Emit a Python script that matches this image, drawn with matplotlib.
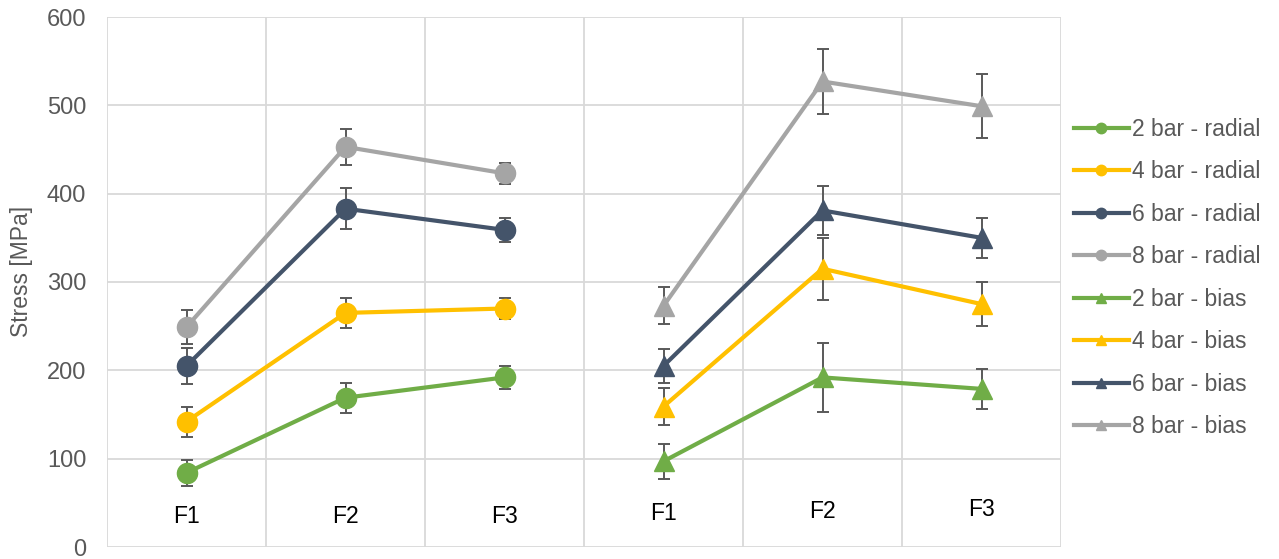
import numpy as np
import matplotlib.pyplot as plt
from matplotlib.lines import Line2D

plt.rcParams['font.family'] = ['Liberation Sans', 'DejaVu Sans']

# stress per feature, radial vs bias, for each pressure
features = ['F1', 'F2', 'F3']
pressures = ['2 bar', '4 bar', '6 bar', '8 bar']
colors = ['#70AD47', '#FFC000', '#44546A', '#A5A5A5']

radial_mean = [
    [84, 169, 192],
    [142, 265, 270],
    [205, 383, 359],
    [249, 453, 423],
]
radial_err = [
    [15, 17, 13],
    [17, 17, 12],
    [20, 23, 14],
    [19, 20, 12],
]
bias_mean = [
    [97, 192, 179],
    [159, 315, 275],
    [205, 381, 350],
    [273, 527, 499],
]
bias_err = [
    [20, 39, 23],
    [21, 35, 25],
    [19, 28, 23],
    [21, 37, 36],
]

# heights of the F labels inside the plot
label_y = [34, 34, 34, 38, 40, 43]

fig = plt.figure(figsize=(12.79, 5.59), dpi=100)
ax = fig.add_axes([107 / 1279, 1 - 547 / 559, (1061 - 107) / 1279, (547 - 17) / 559])

x_rad = np.arange(3)
x_bias = np.arange(3) + 3

for i in range(4):
    ax.errorbar(x_rad, radial_mean[i], yerr=radial_err[i], fmt='none', ecolor='#595959',
                elinewidth=1.4, capsize=4, capthick=1.4, zorder=2)
    ax.plot(x_rad, radial_mean[i], color=colors[i], lw=3, marker='o', ms=14.5, zorder=3)
for i in range(4):
    ax.errorbar(x_bias, bias_mean[i], yerr=bias_err[i], fmt='none', ecolor='#595959',
                elinewidth=1.4, capsize=4, capthick=1.4, zorder=2)
    ax.plot(x_bias, bias_mean[i], color=colors[i], lw=3, marker='^', ms=15, zorder=3)

for j, lab in enumerate(features * 2):
    ax.text(j, label_y[j], lab, ha='center', va='center', fontsize=16.5, color='black')

ax.set_xlim(-0.5, 5.5)
ax.set_ylim(0, 600)
ax.set_yticks(range(0, 601, 100))
ax.set_xticks(np.arange(-0.5, 5.6, 1))
ax.set_xticklabels([])
ax.tick_params(axis='both', length=0, colors='#595959', labelsize=17, pad=15)
ax.grid(True, color='#D9D9D9', lw=1.3)
ax.set_axisbelow(True)
for s in ax.spines.values():
    s.set_visible(False)
ax.set_ylabel('Stress [MPa]', color='#595959', fontsize=16.5, labelpad=0)
ax.yaxis.set_label_coords(-0.078, 0.519)

handles = []
labels = []
for mk, kind in [('o', 'radial'), ('^', 'bias')]:
    for i in range(4):
        handles.append(Line2D([], [], color=colors[i], lw=3, marker=mk, ms=7.5))
        labels.append(f'{pressures[i]} - {kind}')
leg = fig.legend(handles, labels, loc='center left', bbox_to_anchor=(1053 / 1279, 1 - 278 / 559),
                 frameon=False, fontsize=16.5, labelspacing=0.85, handlelength=2.4,
                 handletextpad=0.15, labelcolor='#595959')

fig.savefig('out.png', dpi=100)
